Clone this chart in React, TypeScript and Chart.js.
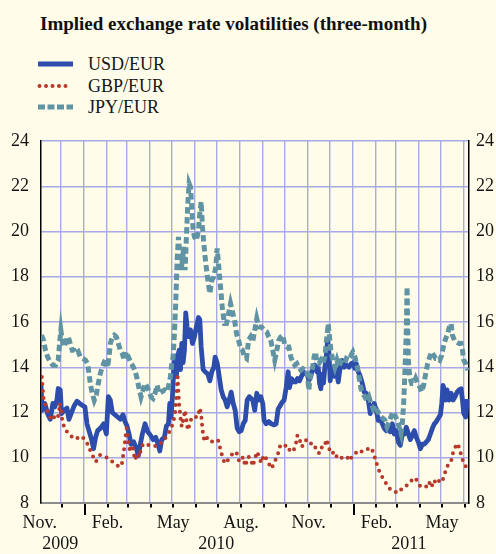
import React, { useEffect, useRef } from "react";
import { Chart, registerables } from "chart.js";

Chart.register(...registerables);

// ---- Data (day = days since 1 Nov 2009, value = implied volatility, %) ----
const usdDay = [2.8, 4.6, 8.2, 11.9, 15.5, 19.1, 21.8, 24.6, 26.4, 29.1, 30.9, 34.5, 38.2, 40.9, 44.5, 48.1, 51.8, 55.4, 59.9, 62.6, 65.4, 68.1, 71.7, 74.4, 77.1, 79.9, 83.5, 88.0, 91.7, 94.4, 97.1, 99.8, 103.4, 107.1, 110.7, 114.3, 117.0, 119.8, 122.5, 125.2, 128.8, 132.5, 135.2, 137.9, 140.6, 144.2, 147.9, 151.5, 155.1, 158.7, 162.4, 164.2, 166.9, 170.5, 173.2, 176.0, 177.8, 179.6, 181.4, 183.2, 185.0, 186.8, 188.7, 190.5, 192.3, 194.1, 195.9, 197.7, 199.5, 201.3, 203.2, 205.9, 208.6, 211.3, 214.0, 216.8, 218.6, 220.4, 223.1, 225.8, 229.5, 232.2, 234.9, 237.6, 239.4, 242.1, 244.9, 247.6, 250.3, 253.0, 255.7, 258.5, 261.2, 263.9, 266.6, 269.3, 272.1, 274.8, 277.5, 280.2, 282.9, 285.7, 290.4, 293.1, 295.9, 298.6, 301.3, 304.0, 305.8, 308.6, 312.2, 315.8, 319.4, 322.2, 324.9, 327.6, 330.3, 333.0, 335.8, 338.5, 340.3, 343.0, 345.7, 348.5, 351.2, 353.9, 356.6, 359.3, 362.0, 364.8, 366.6, 369.3, 372.0, 374.7, 377.5, 379.3, 381.1, 382.9, 384.7, 386.5, 388.3, 390.2, 392.0, 393.8, 395.6, 397.4, 399.2, 401.0, 403.8, 406.5, 409.2, 411.9, 414.6, 417.4, 421.0, 423.7, 426.4, 429.1, 431.0, 433.7, 436.4, 439.1, 441.8, 444.5, 447.3, 450.0, 452.7, 455.4, 458.1, 460.9, 463.6, 466.3, 469.0, 471.7, 474.5, 477.2, 479.9, 482.6, 485.3, 488.1, 490.8, 493.5, 496.2, 498.9, 501.7, 504.4, 507.1, 509.8, 512.5, 515.2, 518.0, 520.7, 523.4, 526.1, 528.8, 531.6, 534.3, 537.0, 539.7, 542.4, 545.2, 547.0, 548.8, 550.6, 552.4, 554.2, 557.0, 559.7, 562.4, 565.1, 567.8, 570.6, 573.3, 575.1, 576.9, 579.6, 581.4];
const usdVol = [13.3, 12.1, 12.4, 11.95, 11.7, 12.4, 12.25, 12.55, 13.06, 13.0, 11.95, 12.1, 12.2, 11.7, 12.0, 12.3, 12.5, 12.4, 12.3, 12.25, 11.5, 11.2, 10.8, 10.4, 10.9, 11.2, 11.3, 11.5, 11.05, 12.7, 12.55, 12.0, 11.9, 11.8, 11.7, 11.9, 11.6, 11.4, 11.05, 10.6, 10.7, 10.4, 10.1, 10.6, 11.05, 11.5, 11.15, 11.0, 10.8, 10.9, 10.55, 10.3, 10.8, 10.9, 11.4, 11.5, 12.4, 11.8, 12.7, 13.9, 14.5, 13.6, 14.5, 14.75, 13.9, 15.05, 14.2, 14.75, 16.4, 15.8, 15.35, 15.65, 15.05, 15.35, 15.8, 16.2, 16.1, 14.9, 13.9, 13.8, 13.7, 13.4, 13.8, 14.0, 14.45, 14.2, 13.6, 13.0, 12.7, 12.55, 12.25, 12.55, 12.9, 12.4, 12.1, 11.3, 11.15, 11.2, 11.5, 11.65, 12.55, 12.7, 12.55, 12.1, 12.85, 12.55, 12.7, 12.4, 11.65, 11.5, 11.6, 11.5, 11.45, 11.5, 12.15, 12.3, 12.45, 12.55, 13.1, 13.8, 13.1, 13.5, 13.35, 13.35, 13.5, 13.4, 13.6, 13.8, 13.7, 13.7, 13.4, 13.6, 14.0, 14.1, 13.8, 14.0, 13.3, 13.05, 13.7, 13.3, 14.0, 14.45, 15.2, 14.7, 13.4, 14.0, 13.9, 13.6, 13.9, 13.35, 14.0, 14.3, 14.0, 14.1, 14.0, 14.15, 14.2, 13.95, 14.15, 13.8, 13.6, 13.3, 12.9, 12.85, 12.55, 11.95, 12.25, 12.4, 12.1, 11.65, 11.7, 11.5, 11.3, 11.2, 11.35, 11.15, 11.5, 11.05, 11.2, 10.7, 10.55, 11.05, 11.05, 11.35, 11.05, 10.8, 11.0, 11.2, 10.9, 10.7, 10.4, 10.6, 10.6, 10.7, 10.8, 11.05, 11.3, 11.5, 11.6, 11.75, 11.9, 12.4, 13.2, 13.0, 12.55, 13.0, 12.55, 12.85, 12.55, 12.7, 12.9, 13.0, 13.05, 12.55, 11.95, 11.8, 12.6];

const gbpDay = [4.1, 5.0, 5.9, 6.8, 9.1, 12.3, 15.0, 18.2, 20.5, 24.1, 25.9, 27.7, 28.6, 30.5, 31.8, 35.0, 40.9, 49.1, 58.2, 65.0, 68.2, 72.7, 77.3, 83.2, 90.9, 100.0, 107.7, 112.3, 114.1, 115.9, 117.7, 119.5, 120.4, 121.8, 124.1, 127.3, 130.4, 134.1, 136.4, 139.5, 143.2, 147.7, 154.5, 159.1, 163.6, 166.8, 170.4, 174.1, 177.3, 180.4, 183.2, 185.0, 186.3, 187.3, 188.6, 189.5, 190.4, 192.3, 194.1, 196.4, 198.6, 200.4, 202.3, 205.0, 207.7, 211.4, 215.9, 218.6, 220.5, 222.3, 224.1, 226.8, 229.5, 234.1, 238.6, 243.2, 245.9, 248.6, 252.3, 256.8, 263.6, 268.2, 271.4, 274.1, 277.3, 280.4, 284.1, 287.3, 290.5, 294.1, 296.3, 299.5, 301.8, 305.4, 308.6, 312.2, 315.8, 320.3, 324.8, 328.0, 332.5, 337.1, 341.6, 346.1, 349.3, 351.1, 353.8, 356.5, 359.7, 362.9, 365.6, 368.7, 373.3, 377.8, 381.0, 384.6, 387.7, 390.5, 393.6, 395.9, 399.1, 402.7, 404.9, 408.1, 411.7, 415.3, 418.5, 421.7, 426.2, 430.7, 435.3, 438.9, 443.4, 447.9, 451.5, 455.2, 457.9, 461.5, 466.0, 471.5, 477.8, 483.2, 488.7, 494.1, 498.6, 503.1, 509.0, 513.5, 518.1, 522.6, 525.8, 529.4, 533.0, 536.2, 540.7, 543.9, 547.5, 551.1, 554.3, 557.4, 560.1, 562.0, 564.7, 567.4, 570.1, 572.8, 575.5, 578.3, 581.0];
const gbpVol = [13.57, 13.2, 12.84, 12.5, 12.32, 12.0, 11.8, 11.66, 11.8, 11.7, 11.8, 12.1, 12.4, 12.07, 11.66, 11.3, 11.03, 10.82, 10.95, 10.7, 10.44, 10.12, 9.82, 10.12, 10.04, 9.82, 9.63, 9.63, 10.0, 10.4, 10.93, 11.3, 11.0, 10.63, 10.25, 10.56, 9.9, 10.2, 10.04, 10.5, 10.63, 10.56, 10.56, 10.5, 10.56, 10.7, 10.78, 11.0, 11.15, 11.37, 11.66, 12.0, 12.54, 13.06, 13.57, 12.9, 12.4, 11.8, 11.37, 11.74, 12.1, 11.66, 11.22, 11.5, 11.8, 11.8, 11.8, 12.2, 11.88, 11.22, 10.85, 11.0, 10.78, 10.7, 10.78, 10.78, 10.46, 10.12, 9.75, 9.9, 10.2, 10.26, 9.9, 9.82, 10.04, 9.63, 10.04, 10.0, 9.63, 10.04, 10.26, 10.0, 9.78, 10.12, 9.97, 9.75, 9.53, 9.82, 10.19, 10.56, 10.5, 10.56, 10.26, 10.34, 10.66, 11.0, 10.85, 10.49, 10.56, 10.78, 10.63, 10.63, 10.63, 10.26, 10.19, 10.49, 10.49, 10.81, 10.49, 10.19, 10.22, 10.26, 9.97, 9.97, 10.0, 10.07, 10.04, 9.87, 10.12, 10.22, 10.34, 10.26, 10.34, 10.41, 10.44, 10.12, 9.82, 9.46, 9.16, 8.87, 8.57, 8.5, 8.46, 8.69, 8.75, 8.87, 9.12, 9.01, 8.72, 8.72, 8.72, 8.94, 8.69, 9.01, 8.84, 9.01, 8.94, 9.31, 9.6, 9.82, 9.9, 10.19, 10.41, 10.63, 10.49, 10.19, 9.9, 9.75, 9.46];

const jpyDay = [3.7, 6.4, 9.1, 11.9, 15.5, 19.1, 22.8, 26.4, 28.2, 30.0, 31.8, 34.5, 37.3, 40.0, 42.7, 45.4, 48.1, 50.9, 53.6, 56.3, 59.9, 63.5, 66.3, 68.1, 69.9, 72.6, 75.3, 78.1, 80.8, 83.5, 86.2, 88.9, 91.7, 93.5, 95.3, 97.1, 99.8, 102.5, 105.2, 108.0, 110.7, 113.4, 116.1, 118.8, 121.6, 124.3, 127.0, 130.6, 133.4, 136.1, 138.8, 141.5, 144.2, 147.0, 149.7, 152.4, 155.1, 157.8, 160.6, 163.3, 166.9, 170.5, 173.2, 176.0, 178.7, 180.5, 182.3, 184.1, 185.9, 187.8, 189.6, 191.4, 193.2, 195.0, 196.8, 198.6, 200.4, 202.3, 204.1, 205.9, 207.7, 209.5, 211.3, 214.0, 216.8, 218.6, 220.4, 222.2, 224.0, 226.7, 229.5, 232.2, 234.9, 237.6, 240.3, 242.1, 244.0, 246.7, 249.4, 252.1, 254.8, 257.6, 260.3, 263.0, 265.7, 268.4, 271.2, 273.9, 276.6, 279.3, 282.0, 284.8, 287.5, 290.4, 293.1, 295.9, 298.6, 302.2, 305.8, 309.5, 312.2, 314.9, 317.6, 320.3, 323.1, 325.8, 328.5, 331.2, 333.9, 336.7, 339.4, 342.1, 344.8, 347.5, 350.3, 353.0, 355.7, 358.4, 361.1, 363.9, 366.6, 368.4, 371.1, 373.8, 375.6, 377.5, 380.2, 382.9, 385.6, 388.3, 391.1, 392.9, 394.7, 396.5, 399.2, 401.9, 404.7, 407.4, 410.1, 412.8, 415.5, 418.3, 421.0, 423.7, 426.4, 429.1, 431.9, 434.6, 437.3, 440.0, 442.7, 445.5, 448.2, 450.9, 453.6, 456.3, 459.1, 461.8, 464.5, 467.2, 469.9, 472.7, 475.4, 478.1, 480.8, 483.5, 486.3, 489.0, 491.7, 493.5, 495.3, 497.1, 498.9, 499.9, 500.8, 501.7, 503.5, 506.2, 508.9, 511.6, 514.3, 517.1, 519.8, 522.5, 525.2, 527.9, 530.7, 533.4, 536.1, 538.8, 541.5, 544.3, 547.0, 549.7, 552.4, 555.2, 557.9, 559.7, 561.5, 564.2, 566.9, 570.6, 573.3, 575.1, 576.9, 579.6, 582.4];
const jpyVol = [15.42, 15.2, 14.75, 14.46, 14.24, 14.09, 14.09, 14.31, 15.05, 15.64, 15.2, 14.9, 15.2, 15.34, 15.05, 14.75, 14.75, 14.6, 14.68, 14.46, 14.39, 14.31, 14.16, 13.72, 13.28, 12.84, 12.54, 12.77, 13.28, 13.72, 14.0, 14.24, 14.39, 14.0, 14.46, 15.05, 15.34, 15.42, 15.34, 15.05, 14.75, 14.6, 14.31, 14.68, 14.46, 14.24, 14.09, 13.87, 13.5, 13.06, 12.69, 12.99, 13.28, 13.13, 12.91, 12.69, 12.62, 12.84, 13.21, 12.84, 12.91, 12.99, 12.91, 13.13, 13.58, 14.16, 14.46, 15.49, 16.82, 18.73, 19.76, 19.02, 18.29, 18.73, 19.32, 18.29, 19.76, 21.23, 22.12, 21.97, 21.09, 20.06, 19.76, 19.61, 20.06, 20.79, 21.31, 20.2, 19.47, 18.58, 17.85, 17.26, 17.85, 18.0, 18.44, 19.25, 18.58, 17.55, 16.52, 15.93, 15.93, 16.37, 16.82, 16.45, 16.08, 15.49, 15.2, 14.83, 14.75, 14.46, 14.39, 15.2, 15.34, 15.12, 15.64, 16.15, 15.78, 15.78, 15.64, 15.56, 15.34, 15.2, 14.75, 14.31, 14.75, 15.2, 15.34, 15.42, 14.98, 14.9, 14.9, 14.46, 14.24, 14.09, 14.16, 14.0, 13.87, 13.94, 13.87, 13.87, 12.99, 13.58, 13.87, 14.46, 14.68, 14.24, 14.16, 14.31, 14.16, 14.46, 15.34, 15.93, 15.34, 14.75, 14.31, 14.0, 14.31, 14.0, 14.24, 14.16, 14.16, 14.46, 14.6, 14.53, 14.68, 14.46, 14.09, 13.58, 13.06, 12.84, 12.69, 12.54, 12.69, 12.4, 12.18, 12.32, 12.1, 11.96, 11.81, 11.74, 11.66, 11.37, 11.59, 11.81, 12.03, 11.88, 11.66, 11.37, 11.07, 11.52, 12.4, 13.87, 15.64, 17.55, 15.64, 14.31, 13.58, 13.28, 13.28, 13.5, 13.28, 13.13, 12.91, 13.21, 13.72, 14.16, 14.46, 14.68, 14.53, 14.39, 14.39, 14.31, 14.53, 14.98, 15.27, 15.49, 15.86, 15.93, 15.42, 15.2, 15.12, 15.05, 15.05, 14.75, 14.31, 14.16, 13.87];

const seriesNames = ["USD/EUR", "GBP/EUR", "JPY/EUR"];
const titleText = "Implied exchange rate volatilities (three-month)";
const yTicks = [8, 10, 12, 14, 16, 18, 20, 22, 24];
const labelledMonths = [10, 1, 4, 7];
const monthLabels = ["Nov.", "Feb.", "May", "Aug."];
const years = [2009, 2010, 2011];

const X_MIN = 3;
const X_MAX = 584;

const BG = "#FFFDE9";
const GRID = "#A8AAE8";
const BLUE = "#2C4DAB";
const RED = "#B8392C";
const TEAL = "#6093A4";
const FONT = '"Liberation Serif", "Times New Roman", Times, serif';

const DAY_MS = 86400000;
const BASE = Date.UTC(2009, 10, 1);
const dayOf = (y: number, m: number) => (Date.UTC(y, m, 1) - BASE) / DAY_MS;

const monthStarts: { day: number; month: number }[] = [];
for (let y = 2009; y <= 2011; y++) {
  for (let m = 0; m < 12; m++) {
    const d = dayOf(y, m);
    if (d >= 0 && d <= X_MAX + 5) monthStarts.push({ day: d, month: m });
  }
}

const pts = (xs: number[], ys: number[]) => xs.map((x, i) => ({ x, y: ys[i] }));

const xDecor = {
  id: "xDecor",
  afterDraw(chart: any) {
    const { ctx, chartArea } = chart;
    const x = chart.scales.x;
    const bottom = chartArea.bottom;
    ctx.save();
    ctx.fillStyle = "#000";
    monthStarts.forEach((t) => {
      if (t.day < X_MIN || t.day > X_MAX) return;
      const px = Math.round(x.getPixelForValue(t.day));
      const len = t.month === 0 ? 11 : 3.5;
      ctx.fillRect(px, bottom + 1, 2, len);
    });
    ctx.font = `18px ${FONT}`;
    ctx.textAlign = "center";
    ctx.textBaseline = "middle";
    ctx.fillStyle = "#151515";
    monthStarts.forEach((t) => {
      const idx = labelledMonths.indexOf(t.month);
      if (idx < 0) return;
      ctx.fillText(monthLabels[idx], x.getPixelForValue(t.day) + 1, bottom + 20);
    });
    years.forEach((yr) => {
      const s = Math.max(X_MIN, dayOf(yr, 0));
      const e = Math.min(X_MAX, dayOf(yr + 1, 0));
      ctx.fillText(String(yr), x.getPixelForValue((s + e) / 2) - 2, bottom + 41);
    });
    ctx.restore();
  },
};

export default function App() {
  const ref = useRef<HTMLCanvasElement>(null);
  useEffect(() => {
    if (!ref.current) return;
    const yTickOpts = (pad: number) => ({
      stepSize: 2,
      padding: pad,
      color: "#151515",
      font: { family: FONT, size: 18 },
    });
    const chart = new Chart(ref.current, {
      type: "line",
      data: {
        datasets: [
          {
            label: seriesNames[0],
            data: pts(usdDay, usdVol),
            borderColor: BLUE,
            borderWidth: 4.8,
            pointRadius: 0,
            tension: 0,
            borderJoinStyle: "round",
            order: 3,
          },
          {
            label: seriesNames[1],
            data: pts(gbpDay, gbpVol),
            borderColor: RED,
            borderWidth: 4,
            borderDash: [0, 7],
            borderCapStyle: "round",
            pointRadius: 0,
            tension: 0,
            order: 2,
          },
          {
            label: seriesNames[2],
            data: pts(jpyDay, jpyVol),
            borderColor: TEAL,
            borderWidth: 5,
            borderDash: [6.5, 3.5],
            pointRadius: 0,
            tension: 0,
            order: 1,
          },
        ],
      },
      options: {
        responsive: false,
        animation: false,
        devicePixelRatio: 1,
        layout: { padding: { top: 141, left: 0, right: 0, bottom: 0 } },
        plugins: {
          legend: { display: false },
          title: { display: false },
          tooltip: { enabled: false },
        },
        scales: {
          x: {
            type: "linear",
            min: X_MIN,
            max: X_MAX,
            afterBuildTicks: (s: any) => {
              s.ticks = monthStarts
                .filter((t) => t.day >= X_MIN && t.day <= X_MAX)
                .map((t) => ({ value: t.day }));
            },
            afterFit: (s: any) => {
              s.height = 51;
            },
            ticks: { display: false },
            grid: { color: GRID, lineWidth: 1.4, drawTicks: false },
            border: { color: "#8c8c8c", width: 2 },
          },
          y: {
            position: "left",
            min: yTicks[0],
            max: yTicks[yTicks.length - 1],
            afterFit: (s: any) => {
              s.width = 41;
            },
            ticks: yTickOpts(12),
            grid: { color: GRID, lineWidth: 1.4, drawTicks: false },
            border: { color: "#000", width: 1.5 },
          },
          y2: {
            position: "right",
            min: yTicks[0],
            max: yTicks[yTicks.length - 1],
            afterFit: (s: any) => {
              s.width = 27;
            },
            ticks: yTickOpts(7),
            grid: { color: "rgba(0,0,0,0)", drawTicks: false },
            border: { color: "#000", width: 1.5 },
          },
        },
      },
      plugins: [xDecor],
    } as any);
    return () => chart.destroy();
  }, []);

  const legendRow = (i: number, top: number) => {
    const lineProps: any =
      i === 0
        ? { stroke: BLUE, strokeWidth: 5 }
        : i === 1
        ? { stroke: RED, strokeWidth: 4, strokeDasharray: "0 6.5", strokeLinecap: "round" }
        : { stroke: TEAL, strokeWidth: 5, strokeDasharray: "7 2.5" };
    return (
      <div key={i} style={{ position: "absolute", left: 0, top: top - 11, height: 22, width: 300 }}>
        <svg width={40} height={22} style={{ position: "absolute", left: 36, top: 0 }}>
          <line x1={i === 1 ? 3.5 : 2} y1={11} x2={i === 1 ? 36 : 37} y2={11} {...lineProps} />
        </svg>
        <div
          style={{
            position: "absolute",
            left: 88,
            top: 0,
            height: 22,
            lineHeight: "22px",
            fontFamily: FONT,
            fontSize: 18,
            color: "#151515",
            whiteSpace: "nowrap",
          }}
        >
          {seriesNames[i]}
        </div>
      </div>
    );
  };

  return (
    <div style={{ position: "fixed", left: 0, top: 0, width: 496, height: 554, background: BG, overflow: "hidden" }}>
      <div
        style={{
          position: "absolute",
          left: 40,
          top: 13,
          height: 22,
          lineHeight: "22px",
          fontFamily: FONT,
          fontWeight: "bold",
          fontSize: 19,
          color: "#111",
          whiteSpace: "nowrap",
        }}
      >
        {titleText}
      </div>
      {legendRow(0, 64)}
      {legendRow(1, 86)}
      {legendRow(2, 107)}
      <canvas ref={ref} width={496} height={554} style={{ position: "absolute", left: 0, top: 0, width: 496, height: 554 }} />
    </div>
  );
}
